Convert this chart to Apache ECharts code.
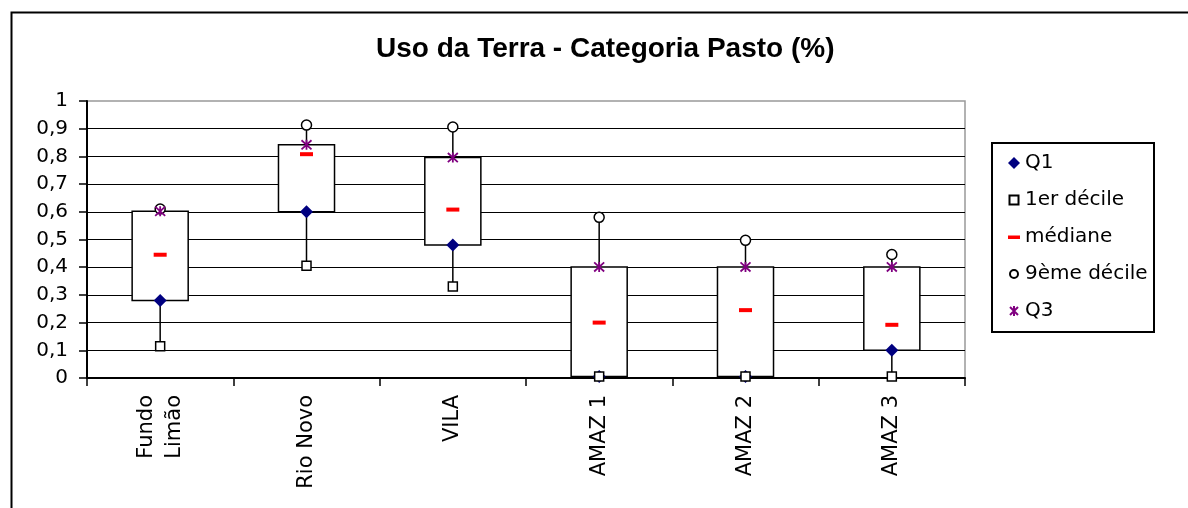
<!DOCTYPE html>
<html><head><meta charset="utf-8">
<script src="https://cdn.jsdelivr.net/npm/echarts@6/dist/echarts.min.js"></script>
<style>html,body{margin:0;padding:0;background:#fff}#c{width:1188px;height:508px}</style>
</head><body><div id="c"></div>
<script>
const titleText = 'Uso da Terra - Categoria Pasto (%)';
const categories = ['Fundo\nLimão', 'Rio Novo', 'VILA', 'AMAZ 1', 'AMAZ 2', 'AMAZ 3'];
const q1 = [0.28, 0.60, 0.48, 0.005, 0.005, 0.10];
const decile1 = [0.115, 0.405, 0.33, 0.005, 0.005, 0.005];
const median = [0.445, 0.808, 0.608, 0.20, 0.245, 0.192];
const decile9 = [0.61, 0.913, 0.906, 0.58, 0.497, 0.446];
const q3 = [0.602, 0.842, 0.796, 0.401, 0.401, 0.401];
const yTickLabels = ['0', '0,1', '0,2', '0,3', '0,4', '0,5', '0,6', '0,7', '0,8', '0,9', '1'];
const seriesNames = ['Q1', '1er décile', 'médiane', '9ème décile', 'Q3'];

const starPath = 'path://M0,0L10,10M10,0L0,10M5,-0.5L5,10.5';
const legendIcons = [
  'diamond',
  'path://M0,0M12,12M1.5,1.5h9v9h-9z',
  'path://M0,0M12,12M0,4.5h12v3.5h-12z',
  'path://M0,0M12,12M2,6a4,4 0 1,0 8,0a4,4 0 1,0 -8,0z',
  'path://M0,0M12,12M2,2L10,10M10,2L2,10M6,1L6,11'
];

const boxData = categories.map((c, i) => [i, decile1[i], q1[i], q3[i], decile9[i]]);

const chart = echarts.init(document.getElementById('c'), null, {renderer: 'canvas'});
const baseFont = 'DejaVu Sans';
chart.setOption({
  animation: false,
  backgroundColor: '#fff',
  title: {
    text: titleText, left: 376, top: 35, padding: 0,
    textStyle: {fontFamily: 'Liberation Sans', fontWeight: 'bold', fontSize: 28, color: '#000'}
  },
  grid: {left: 87, right: 223, top: 101, bottom: 130, show: true, borderColor: '#999', borderWidth: 1.5, backgroundColor: 'transparent'},
  legend: {
    orient: 'vertical', left: 1007, top: 153, padding: 0,
    itemWidth: 12, itemHeight: 12, itemGap: 17, selectedMode: false,
    textStyle: {fontFamily: baseFont, fontSize: 20, color: '#000', lineHeight: 20},
    data: seriesNames.map((n, i) => ({name: n, icon: legendIcons[i]}))
  },
  xAxis: {
    type: 'category', data: categories, boundaryGap: true,
    axisLine: {lineStyle: {color: '#000', width: 2}},
    axisTick: {show: true, inside: false, length: 8, alignWithLabel: false, lineStyle: {color: '#000', width: 1.5}},
    axisLabel: {rotate: 90, margin: 17, interval: 0, fontFamily: baseFont, fontSize: 21, color: '#000', lineHeight: 28}
  },
  yAxis: {
    type: 'value', min: 0, max: 1, interval: 0.1,
    axisLine: {show: true, lineStyle: {color: '#000', width: 2}},
    axisTick: {show: true, inside: false, length: 8, lineStyle: {color: '#000', width: 1.5}},
    axisLabel: {margin: 19, fontFamily: baseFont, fontSize: 20, color: '#000',
      formatter: (v, i) => yTickLabels[i]},
    splitLine: {show: true, showMaxLine: false, lineStyle: {color: '#000', width: 1.2}}
  },
  graphic: [
    {type: 'rect', left: 9, top: 10, z: 0, silent: true,
      shape: {x: 0, y: 0, width: 1220, height: 540}, style: {fill: 'none', stroke: '#000', lineWidth: 2}},
    {type: 'rect', left: 991, top: 142, z: 0, silent: true,
      shape: {x: 0, y: 0, width: 162, height: 189}, style: {fill: '#fff', stroke: '#000', lineWidth: 2}}
  ],
  series: [
    {
      type: 'custom', name: 'box', z: 2, silent: true,
      data: boxData,
      encode: {x: 0, y: [1, 2, 3, 4]},
      renderItem: function (params, api) {
        const x = api.value(0);
        const pLow = api.coord([x, api.value(1)]);
        const pHigh = api.coord([x, api.value(4)]);
        const pQ1 = api.coord([x, api.value(2)]);
        const pQ3 = api.coord([x, api.value(3)]);
        const w = api.size([1, 0])[0] * 0.383;
        return {type: 'group', children: [
          {type: 'line', shape: {x1: pLow[0], y1: pLow[1], x2: pHigh[0], y2: pHigh[1]},
            style: {stroke: '#000', lineWidth: 1.5}},
          {type: 'rect', shape: {x: pQ1[0] - w / 2, y: pQ3[1], width: w, height: pQ1[1] - pQ3[1]},
            style: {fill: '#fff', stroke: '#000', lineWidth: 1.5}}
        ]};
      }
    },
    {type: 'scatter', name: seriesNames[0], data: q1, z: 3, clip: false, symbol: 'diamond', symbolSize: 13,
      itemStyle: {color: '#000080', opacity: 1}},
    {type: 'scatter', name: seriesNames[1], data: decile1, z: 3, clip: false, symbol: 'rect', symbolSize: 9,
      itemStyle: {color: '#fff', borderColor: '#000', borderWidth: 1.5, opacity: 1}},
    {type: 'scatter', name: seriesNames[2], data: median, z: 3, clip: false, symbol: 'rect', symbolSize: [13, 4],
      itemStyle: {color: '#ff0000', opacity: 1}},
    {type: 'scatter', name: seriesNames[3], data: decile9, z: 3, clip: false, symbol: 'circle', symbolSize: 10,
      itemStyle: {color: '#fff', borderColor: '#000', borderWidth: 1.5, opacity: 1}},
    {type: 'scatter', name: seriesNames[4], data: q3, z: 4, clip: false, symbol: starPath, symbolSize: 10,
      itemStyle: {color: '#800080', borderColor: '#800080', borderWidth: 1.8, opacity: 1}}
  ]
});
</script>
</body></html>
